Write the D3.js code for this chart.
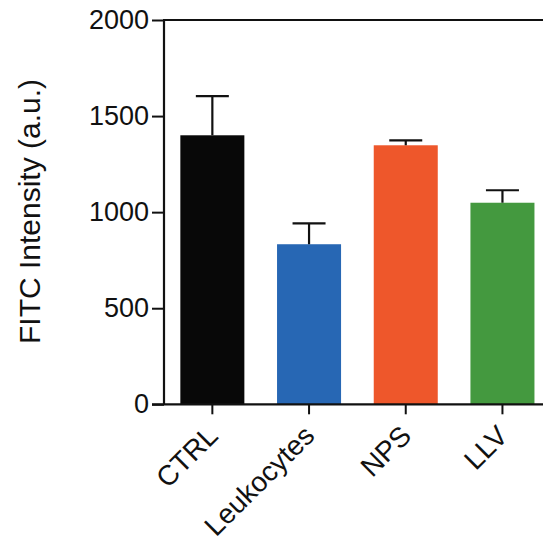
<!DOCTYPE html>
<html><head><meta charset="utf-8">
<script src="https://cdn.jsdelivr.net/npm/d3@7"></script>
<style>body{margin:0;background:#fff;} svg{display:block;}</style>
</head><body>
<svg id="c" width="543" height="546"></svg>
<script>
const categories = ["CTRL", "Leukocytes", "NPS", "LLV"];
const values = [1400, 833, 1348, 1049];
const errors = [204, 109, 26, 65];
const colors = ["#080808", "#2767b4", "#ee572b", "#44993f"];
const yTicks = [0, 500, 1000, 1500, 2000];
const yLabel = "FITC Intensity (a.u.)";

const svg = d3.select("#c");
const font = "'Liberation Sans', Arial, sans-serif";
const x = d3.scaleBand().domain(categories).range([164, 550.8]).paddingInner(0.338).paddingOuter(0.169);
const y = d3.scaleLinear().domain([0, 2000]).range([404.3, 20]);

// bars
svg.append("g").selectAll("rect").data(categories).join("rect")
  .attr("x", d => x(d)).attr("width", x.bandwidth())
  .attr("y", (d, i) => y(values[i])).attr("height", (d, i) => y(0) - y(values[i]))
  .attr("fill", (d, i) => colors[i]);

// error bars
const eb = svg.append("g").attr("stroke", "#111").attr("stroke-width", 2.2);
categories.forEach((c, i) => {
  const cx = x(c) + x.bandwidth() / 2;
  eb.append("line").attr("x1", cx).attr("x2", cx).attr("y1", y(values[i])).attr("y2", y(values[i] + errors[i]));
  eb.append("line").attr("x1", cx - 16.5).attr("x2", cx + 16.5).attr("y1", y(values[i] + errors[i])).attr("y2", y(values[i] + errors[i]));
});

// y axis
const ya = svg.append("g").attr("transform", "translate(164,0)")
  .call(d3.axisLeft(y).tickValues(yTicks).tickSize(12).tickPadding(3).tickFormat(d3.format("d")));
ya.selectAll("text").attr("font-family", font).attr("font-size", 27).attr("fill", "#111");
ya.selectAll("line").attr("stroke", "#111").attr("stroke-width", 2);
ya.select(".domain").attr("stroke", "#111").attr("stroke-width", 2.2).attr("d", "M0,20V404.3");

// x axis
const xa = svg.append("g").attr("transform", "translate(0,404.3)")
  .call(d3.axisBottom(x).tickSize(10).tickSizeOuter(0));
xa.select(".domain").attr("stroke", "#111").attr("stroke-width", 2.2).attr("d", "M152,0H543");
xa.selectAll("line").attr("stroke", "#111").attr("stroke-width", 2);
xa.selectAll("text").attr("font-family", font).attr("font-size", 28).attr("fill", "#111")
  .attr("text-anchor", "end").attr("dy", "0.35em").attr("dx", "0")
  .attr("transform", "translate(-9,17) rotate(-45)");

// top frame line
svg.append("line").attr("x1", 163).attr("x2", 543).attr("y1", y(2000)).attr("y2", y(2000))
  .attr("stroke", "#111").attr("stroke-width", 2.2);

// y label
svg.append("text").attr("transform", "translate(40,211.5) rotate(-90)")
  .attr("text-anchor", "middle").attr("font-family", font).attr("font-size", 30).attr("fill", "#111")
  .text(yLabel);
</script>
</body></html>
